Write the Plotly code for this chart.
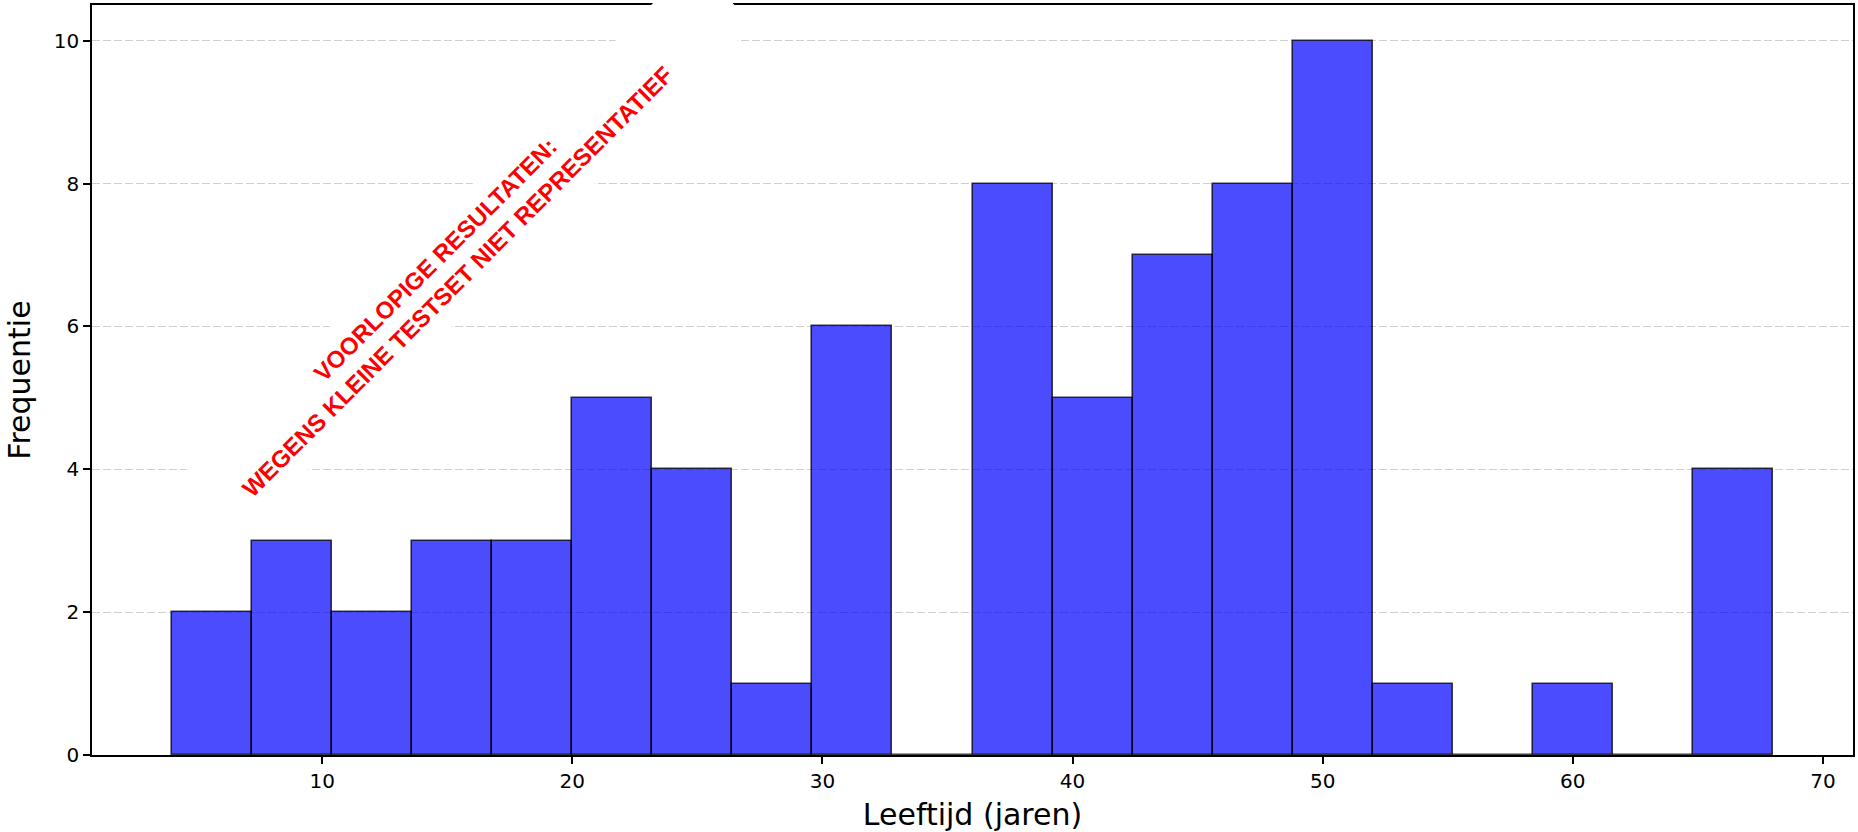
import plotly.graph_objects as go

# Histogram data
bin_edges = [4.0, 7.2, 10.4, 13.6, 16.8, 20.0, 23.2, 26.4, 29.6, 32.8, 36.0,
             39.2, 42.4, 45.6, 48.8, 52.0, 55.2, 58.4, 61.6, 64.8, 68.0]
counts = [2, 3, 2, 3, 3, 5, 4, 1, 6, 0, 8, 5, 7, 8, 10, 1, 0, 1, 0, 4]
x_ticks = [10, 20, 30, 40, 50, 60, 70]
y_ticks = [0, 2, 4, 6, 8, 10]
x_title = "Leeftijd (jaren)"
y_title = "Frequentie"
watermark = "VOORLOPIGE RESULTATEN:<br>WEGENS KLEINE TESTSET NIET REPRESENTATIEF"

centers = [(a + b) / 2 for a, b in zip(bin_edges[:-1], bin_edges[1:])]
widths = [b - a for a, b in zip(bin_edges[:-1], bin_edges[1:])]

fig = go.Figure()
fig.add_trace(go.Bar(
    x=centers, y=counts, width=widths,
    marker=dict(color="rgba(0,0,255,0.7)",
                line=dict(color="rgba(0,0,0,0.75)", width=1.6)),
    hoverinfo="x+y",
))

axis_common = dict(
    showline=True, linecolor="black", linewidth=1.6, mirror=True,
    ticks="outside", ticklen=7, tickwidth=1.6, tickcolor="black",
    tickfont=dict(family="DejaVu Sans", size=20, color="black"),
    zeroline=False,
)

fig.update_xaxes(
    range=[0.8, 71.2], tickvals=x_ticks, showgrid=False,
    title=dict(text=x_title, font=dict(family="DejaVu Sans", size=30, color="black"), standoff=12),
    **axis_common,
)
fig.update_yaxes(
    range=[0, 10.5], tickvals=y_ticks, showgrid=True,
    gridcolor="#d0d0d0", gridwidth=1.3, griddash="8px,3px",
    title=dict(text=y_title, font=dict(family="DejaVu Sans", size=30, color="black"), standoff=14),
    **axis_common,
)

fig.add_annotation(
    text=watermark, xref="paper", yref="paper", x=0.2012, y=0.6466,
    xanchor="center", yanchor="middle", showarrow=False, textangle=-45,
    font=dict(family="Liberation Sans", size=24, color="red", weight="bold"),
    bgcolor="white", width=782, height=85, borderpad=0, align="center",
)

fig.update_layout(
    width=1858, height=832,
    margin=dict(l=92, r=3, t=5, b=77),
    plot_bgcolor="white", paper_bgcolor="white",
    showlegend=False, bargap=0,
)

fig.write_html(
    "out.html", config={"displayModeBar": False},
    post_script="document.body.style.margin='0';document.body.style.overflow='hidden';"
                "document.documentElement.style.overflow='hidden';",
)
